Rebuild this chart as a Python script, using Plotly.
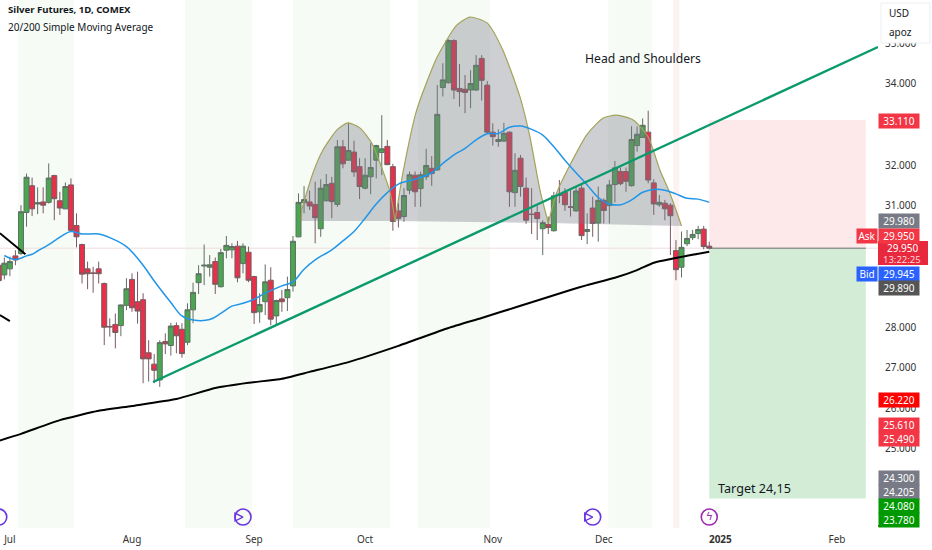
import plotly.graph_objects as go

# daily bars, session 0 is the one cut off at the left edge
opens = [29.53, 29.29, 29.44, 29.76, 29.82, 30.83, 31.49, 31.04, 31.09, 31.08, 31.74, 31.12, 30.92, 31.51, 30.51, 30.04,
         29.44, 29.34, 29.44, 29.08, 28.02, 28.07, 28.04, 28.54, 29.18, 28.63, 28.68, 27.37, 27.09, 26.70, 27.65, 27.55,
         28.04, 27.95, 27.63, 28.43, 29.10, 29.51, 29.48, 29.62, 29.00, 29.90, 29.91, 30.00, 29.57, 29.85, 29.25, 28.38,
         28.63, 29.16, 28.28, 28.70, 28.73, 29.02, 30.23, 31.07, 31.09, 31.03, 30.43, 31.12, 31.55, 31.03, 32.45, 32.12,
         32.32, 31.96, 31.43, 31.71, 32.12, 32.31, 32.46, 31.96, 30.87, 30.73, 31.38, 31.75, 31.42, 31.71, 31.92, 31.88,
         33.91, 34.03, 35.07, 33.89, 33.87, 33.85, 33.85, 34.63, 33.97, 32.81, 32.58, 32.59, 32.81, 31.32, 32.17, 31.43,
         30.79, 30.83, 30.43, 30.54, 30.38, 31.28, 31.33, 30.97, 30.87, 31.43, 30.36, 30.94, 30.57, 31.13, 31.00, 31.52,
         31.84, 31.84, 31.49, 32.48, 32.68, 32.81, 31.56, 31.02, 31.06, 31.01, 29.89, 29.48, 30.06, 30.21, 30.31, 30.42,
         30.00]
highs = [29.70, 29.72, 29.74, 29.90, 31.01, 31.79, 31.69, 31.45, 31.45, 32.04, 31.76, 31.34, 31.57, 31.67, 30.81, 30.06,
         29.62, 29.49, 29.62, 29.10, 28.22, 28.34, 28.56, 29.21, 29.33, 29.37, 28.84, 27.68, 27.34, 27.68, 27.85, 28.11,
         28.12, 28.10, 28.59, 29.10, 29.53, 30.04, 29.78, 29.72, 29.93, 30.25, 30.07, 30.13, 30.07, 29.99, 29.27, 28.84,
         29.55, 29.48, 28.68, 28.92, 29.25, 30.25, 31.30, 31.48, 31.37, 31.59, 31.65, 31.78, 31.71, 32.62, 32.62, 33.04,
         32.60, 32.17, 32.17, 32.54, 32.50, 33.23, 32.62, 32.03, 31.06, 31.43, 31.84, 31.84, 31.84, 32.40, 32.22, 33.97,
         34.51, 35.10, 35.10, 34.49, 34.22, 34.34, 34.71, 34.71, 34.07, 33.03, 32.88, 33.04, 32.83, 32.29, 32.25, 31.69,
         31.43, 30.99, 30.64, 30.73, 31.34, 31.63, 31.43, 31.43, 31.47, 31.51, 30.81, 31.22, 31.47, 31.18, 31.63, 32.10,
         31.94, 31.94, 32.96, 32.95, 33.15, 33.34, 31.65, 31.26, 31.14, 31.06, 30.15, 30.36, 30.40, 30.40, 30.50, 30.50,
         30.11]
lows = [29.08, 29.18, 29.26, 29.53, 29.78, 30.48, 30.74, 30.79, 30.81, 31.05, 30.64, 30.77, 30.91, 30.36, 29.97, 29.08,
        28.94, 28.85, 29.08, 27.56, 27.77, 27.48, 27.78, 28.42, 28.38, 28.09, 26.62, 26.66, 26.62, 26.53, 27.34, 27.30,
        27.36, 27.25, 27.56, 28.10, 28.82, 29.04, 29.25, 28.82, 28.98, 29.70, 29.70, 29.11, 29.33, 29.11, 28.08, 28.11,
        28.30, 28.05, 28.08, 28.38, 28.40, 28.88, 30.22, 30.81, 30.89, 30.07, 30.23, 31.10, 30.69, 30.97, 31.92, 32.11,
        31.71, 31.16, 31.40, 31.28, 31.67, 31.75, 32.00, 30.38, 30.46, 30.60, 31.28, 30.97, 30.97, 31.63, 31.49, 31.86,
        33.69, 34.01, 33.63, 33.44, 33.28, 33.40, 33.83, 33.59, 32.78, 32.48, 32.45, 32.57, 30.97, 30.97, 31.22, 30.55,
        30.30, 30.15, 29.78, 30.30, 30.36, 31.06, 30.87, 30.73, 30.85, 30.15, 30.05, 30.23, 30.11, 30.56, 30.56, 31.08,
        31.50, 31.34, 31.47, 32.33, 32.67, 31.55, 30.77, 30.97, 30.64, 29.78, 29.16, 29.23, 30.00, 30.15, 30.17, 29.92,
        29.92]
closes = [29.15, 29.58, 29.62, 29.66, 30.85, 31.70, 30.92, 31.07, 31.01, 31.68, 31.17, 30.94, 31.47, 30.39, 30.23, 29.31,
          29.32, 29.33, 29.32, 28.00, 28.01, 27.87, 28.55, 28.95, 28.48, 28.40, 27.22, 27.22, 26.94, 27.62, 27.59, 28.03,
          27.79, 27.35, 28.43, 28.86, 29.32, 29.53, 29.54, 29.06, 29.84, 30.02, 29.99, 29.22, 30.00, 29.16, 28.36, 28.56,
          29.12, 28.20, 28.66, 28.63, 28.93, 30.12, 31.08, 31.15, 30.99, 30.70, 31.43, 31.52, 31.10, 32.45, 32.03, 32.36,
          31.83, 31.47, 31.75, 31.94, 32.48, 32.40, 32.01, 30.61, 30.68, 31.25, 31.76, 31.34, 31.76, 31.99, 31.79, 33.25,
          34.10, 35.07, 33.85, 33.81, 33.79, 34.01, 34.46, 34.09, 32.81, 32.70, 32.63, 32.78, 31.34, 31.87, 31.47, 30.64,
          30.78, 30.68, 30.58, 30.46, 31.24, 31.25, 31.02, 30.96, 31.36, 30.26, 30.41, 30.56, 31.13, 30.88, 31.51, 31.93,
          31.54, 31.60, 32.63, 32.76, 32.98, 31.63, 31.04, 31.08, 30.92, 30.75, 29.42, 29.97, 30.19, 30.29, 30.41, 29.99,
          29.95]
sessions = list(range(len(opens)))

tick_sessions = [2, 24, 46, 66, 89, 109, 130, 151]
tick_labels = ["Jul", "Aug", "Sep", "Oct", "Nov", "Dec", "<b>2025</b>", "Feb"]

# moving averages, read every couple of sessions
sma20_x = [1, 3, 5, 6, 7, 9, 11, 13, 15, 18, 20, 23, 26, 28, 31, 33, 35, 38, 40, 42, 44, 46, 48, 51, 53, 55, 57, 60, 62, 64,
           66, 68, 70, 72, 75, 78, 80, 82, 84, 86, 88, 90, 92, 94, 96, 98, 100, 102, 104, 106, 108, 110, 112, 114, 116,
           118, 120, 122, 124, 126, 128]
sma20_y = [29.77, 29.67, 29.76, 29.80, 29.88, 30.04, 30.22, 30.36, 30.30, 30.30, 30.21, 29.99, 29.53, 29.14, 28.61, 28.28,
           28.18, 28.19, 28.34, 28.52, 28.59, 28.69, 28.84, 29.02, 29.12, 29.43, 29.66, 29.91, 30.13, 30.36, 30.69, 31.04,
           31.32, 31.53, 31.65, 31.81, 32.04, 32.25, 32.41, 32.62, 32.77, 32.78, 32.93, 32.96, 32.88, 32.74, 32.45, 32.12,
           31.81, 31.51, 31.20, 31.04, 31.02, 31.14, 31.33, 31.40, 31.38, 31.29, 31.18, 31.16, 31.08]
sma200_x = [0, 4, 11, 18, 24, 32, 39, 45, 51, 56, 63, 72, 81, 87, 94, 103, 106, 111, 115, 118, 122, 128]
sma200_y = [25.20, 25.37, 25.71, 25.94, 26.06, 26.23, 26.50, 26.63, 26.73, 26.90, 27.14, 27.54, 27.98, 28.23, 28.53, 28.92,
            29.04, 29.22, 29.41, 29.59, 29.71, 29.86]

# drawings on the chart
trend_x = [27.8, 158.4]
trend_y = [26.65, 34.91]
old_line_a_x = [0.2, 4.8]
old_line_a_y = [30.32, 29.8]
old_line_b_x = [0.2, 2]
old_line_b_y = [28.3, 28.15]

left_x = [54.5, 54.6, 55.5, 56.8, 58.4, 60.9, 62.9, 65.1, 67.2, 69.0, 70.5, 71.4]
left_y = [30.62, 30.89, 31.33, 31.88, 32.37, 32.86, 33.04, 32.91, 32.54, 31.93, 31.33, 30.62]
head_x = [71.4, 72.8, 75.3, 78.9, 82.5, 84.9, 88.0, 90.8, 93.9, 95.7, 97.5, 99.0]
head_y = [30.62, 31.80, 33.36, 34.64, 35.45, 35.65, 35.50, 34.84, 33.68, 32.69, 31.38, 30.57]
right_x = [99.0, 100.5, 102.9, 105.9, 108.9, 111.3, 114.3, 117.0, 119.1, 120.9, 123.0]
right_y = [30.57, 31.31, 32.00, 32.74, 33.16, 33.23, 33.11, 32.69, 31.88, 31.31, 30.50]

green_bands = [(3.5, 13.5), (33.5, 45.6), (53, 70.5), (75.5, 88.5), (109.8, 117.7)]
red_bands = [(121.5, 122.6)]

entry = 29.95
stop = 33.11
target = 23.78
pos_start = 128
pos_end = 156.2

# price scale labels: text, fill, top pixel
label_texts = ["33.110", "29.980", "29.950", "29.945", "29.890", "26.220", "25.610", "25.490", "24.300", "24.205", "24.080", "23.780"]
label_colors = ["#f23645", "#787b86", "#f23645", "#2962ff", "#555555", "#ff0000", "#f23645", "#f23645", "#787b86", "#787b86", "#009900", "#009900"]
label_pos = [112.5, 213.5, 227.5, 266, 280, 392.3, 416.7, 430.5, 470.3, 484, 497.7, 511.5]

PLOT_H = 528
FONT = "Noto Sans"


def paper_y(py):
    return 1 - py / PLOT_H


fig = go.Figure()

for xs, ys in [(left_x, left_y), (head_x, head_y), (right_x, right_y)]:
    fig.add_trace(go.Scatter(x=xs, y=ys, mode="lines", fill="toself", fillcolor="rgba(120,123,134,0.36)",
                             line=dict(width=0, shape="spline", smoothing=0.6), hoverinfo="skip"))
    fig.add_trace(go.Scatter(x=xs, y=ys, mode="lines", line=dict(color="#a3a358", width=1.2, shape="spline", smoothing=0.6),
                             hoverinfo="skip"))

fig.add_trace(go.Candlestick(x=sessions, open=opens, high=highs, low=lows, close=closes, whiskerwidth=0,
                             increasing=dict(fillcolor="#4ba651", line=dict(color="#5f6f63", width=1)),
                             decreasing=dict(fillcolor="#e8304a", line=dict(color="#7a5a60", width=1))))

fig.add_trace(go.Scatter(x=sma20_x, y=sma20_y, mode="lines", line=dict(color="#2196e8", width=1.5, shape="spline")))
fig.add_trace(go.Scatter(x=sma200_x, y=sma200_y, mode="lines", line=dict(color="#000000", width=2, shape="spline", smoothing=0.5)))
fig.add_trace(go.Scatter(x=trend_x, y=trend_y, mode="lines", line=dict(color="#0a9a6c", width=2.4)))
fig.add_trace(go.Scatter(x=old_line_a_x, y=old_line_a_y, mode="lines", line=dict(color="#000000", width=2)))
fig.add_trace(go.Scatter(x=old_line_b_x, y=old_line_b_y, mode="lines", line=dict(color="#000000", width=2)))

# event icons along the bottom
fig.add_trace(go.Scatter(x=[0, 44, 107], y=[23.32] * 3, mode="markers",
                         marker=dict(symbol="circle-open", size=16, color="#6a35e0", line=dict(width=1.6))))
fig.add_trace(go.Scatter(x=[0, 44, 107], y=[23.32] * 3, mode="markers",
                         marker=dict(symbol="arrow-right-open", size=8, color="#6a35e0", line=dict(width=1.3))))
fig.add_trace(go.Scatter(x=[128], y=[23.32], mode="markers+text", text=["ϟ"], textposition="middle center",
                         textfont=dict(size=11, color="#a02bb0", family="DejaVu Sans"),
                         marker=dict(symbol="circle-open", size=16, color="#a02bb0", line=dict(width=1.6))))

shapes = []
for x0, x1 in green_bands:
    shapes.append(dict(type="rect", xref="x", yref="paper", x0=x0, x1=x1, y0=0, y1=1, fillcolor="#f6fbf6", line_width=0, layer="below"))
for x0, x1 in red_bands:
    shapes.append(dict(type="rect", xref="x", yref="paper", x0=x0, x1=x1, y0=0, y1=1, fillcolor="#fdf2f2", line_width=0, layer="below"))
shapes.append(dict(type="line", xref="paper", yref="y", x0=0, x1=1, y0=entry, y1=entry, line=dict(color="#efdcdc", width=1), layer="below"))
shapes.append(dict(type="rect", x0=pos_start, x1=pos_end, y0=entry, y1=stop, fillcolor="#fde8ea", line_width=0, layer="below"))
shapes.append(dict(type="rect", x0=pos_start, x1=pos_end, y0=target, y1=entry, fillcolor="#d2ecd6", line_width=0, layer="below"))
shapes.append(dict(type="line", x0=pos_start, x1=pos_end, y0=entry, y1=entry, line=dict(color="#6b6b6b", width=1)))
# currency box over the top of the scale
shapes.append(dict(type="rect", xref="paper", yref="paper", x0=1 + 3 / 878, x1=1 + 52 / 878, y0=paper_y(43), y1=paper_y(3),
                   fillcolor="white", line=dict(color="#eceef2", width=1), layer="above"))
shapes.append(dict(type="rect", xref="paper", yref="paper", x0=1, x1=1 + 50 / 878, y0=paper_y(265), y1=paper_y(241),
                   fillcolor="#e8283c", line_width=0, layer="above"))
shapes.append(dict(type="rect", xref="paper", yref="paper", x0=1, x1=1 + 40 / 878, y0=paper_y(527), y1=paper_y(525),
                   fillcolor="#c94a3a", line_width=0, layer="above"))

notes = [
    dict(x=6, py=9, text="<b>Silver Futures, 1D, COMEX</b>", size=9.6, color="#131722"),
    dict(x=6, py=27, text="20/200 Simple Moving Average", size=10, color="#131722"),
    dict(x=582.5, py=58, text="Head and Shoulders", size=12.2, color="#131722"),
    dict(x=715.5, py=488, text="Target 24,15", size=12.6, color="#131722"),
    dict(x=887.5, py=13, text="USD", size=10, color="#131722"),
    dict(x=887.5, py=32, text="apoz", size=10, color="#131722"),
    dict(x=884.5, py=247.5, text="29.950", size=10, color="white"),
    dict(x=881, py=259.5, text="13:22:25", size=9.5, color="#ffd5d9"),
]
annotations = [dict(xref="paper", yref="paper", x=n["x"] / 878, y=paper_y(n["py"]), xanchor="left", yanchor="middle",
                    text=n["text"], showarrow=False, font=dict(family=FONT, size=n["size"], color=n["color"])) for n in notes]

for text, colour, top in zip(label_texts, label_colors, label_pos):
    annotations.append(dict(xref="paper", yref="paper", x=1, y=paper_y(top), xanchor="left", yanchor="top", width=40, height=14,
                            text=text, showarrow=False, bgcolor=colour, borderpad=0, align="center",
                            font=dict(family=FONT, size=10, color="white")))
for text, colour, top in [("Ask", "#f23645", 227.5), ("Bid", "#2962ff", 266)]:
    annotations.append(dict(xref="paper", yref="paper", x=1, y=paper_y(top), xanchor="right", yanchor="top", width=20, height=14,
                            text=text, showarrow=False, bgcolor=colour, borderpad=0, align="center",
                            font=dict(family=FONT, size=10, color="white")))

fig.update_layout(
    width=932, height=550,
    margin=dict(l=0, r=54, t=0, b=22),
    paper_bgcolor="white", plot_bgcolor="white",
    showlegend=False, boxgap=0.1, boxgroupgap=0,
    shapes=shapes, annotations=annotations,
    font=dict(family=FONT, size=10, color="#333333"),
    xaxis=dict(range=[0.22, 158.4], tickvals=tick_sessions, ticktext=tick_labels, showgrid=False, zeroline=False,
               rangeslider=dict(visible=False), ticks="outside", ticklen=2, tickcolor="white", tickfont=dict(size=10)),
    yaxis=dict(range=[23.05, 36.07], side="right", dtick=1, tickformat=".3f", showgrid=False, zeroline=False,
               ticks="outside", ticklen=4, tickcolor="white", tickfont=dict(size=10)),
)

# the page's default body margin would push the chart 8px in
fig.write_html("out.html", post_script="document.body.style.margin='0';", config=dict(displayModeBar=False))
